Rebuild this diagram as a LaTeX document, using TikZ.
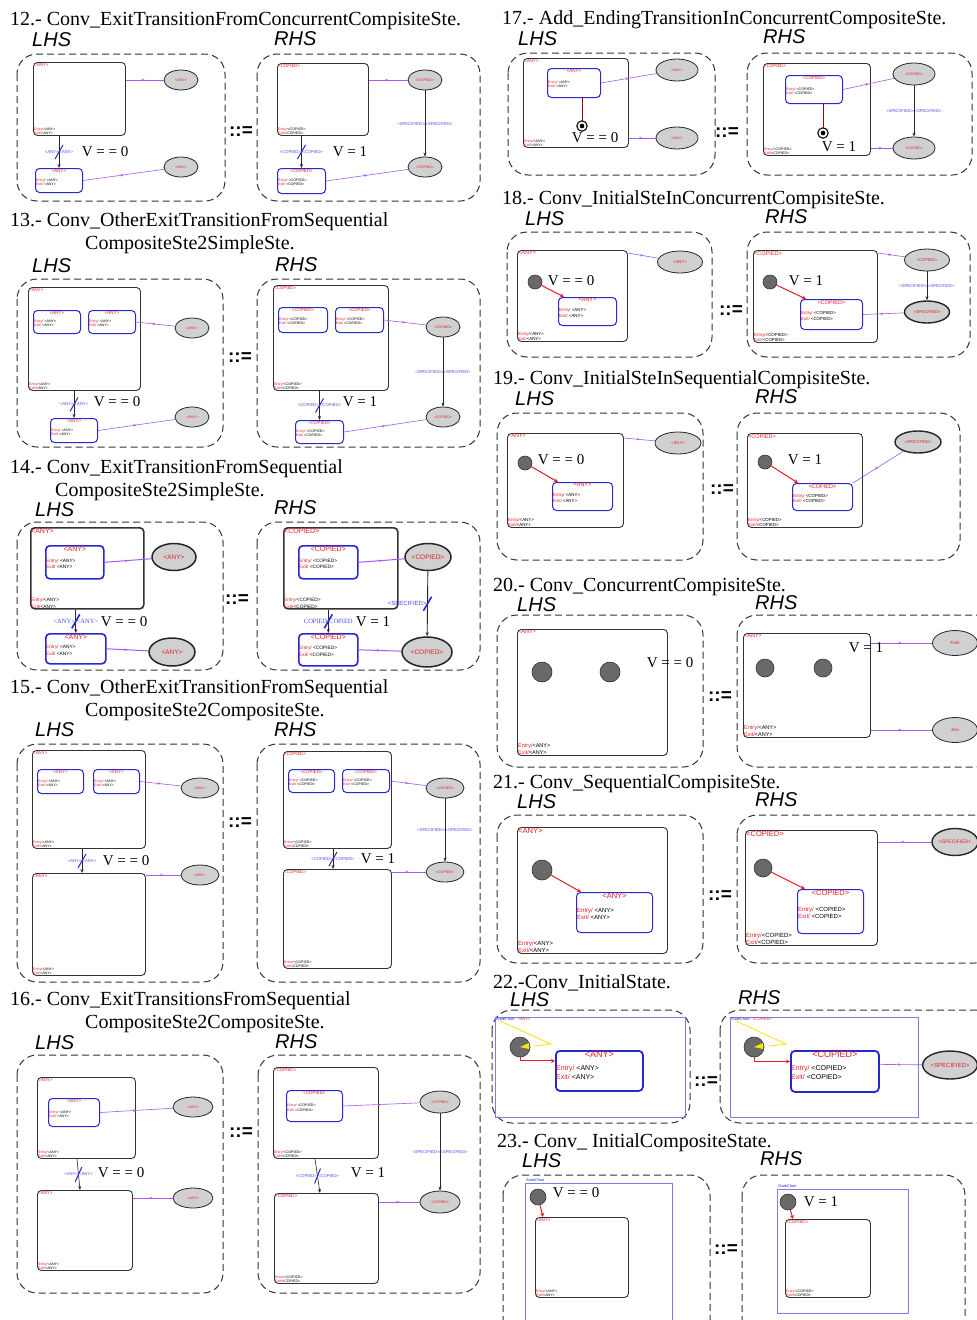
\documentclass[tikz,border=0pt]{standalone}
\usepackage{fontspec}
\setmainfont{Liberation Serif}
\setsansfont{Liberation Sans}
\usetikzlibrary{shapes.geometric,arrows.meta,decorations.markings}
\definecolor{stred}{RGB}{228,30,36}
\definecolor{stblue}{RGB}{40,40,205}
\definecolor{trviolet}{RGB}{168,90,232}
\definecolor{lblblue}{RGB}{75,75,235}
\definecolor{evgray}{RGB}{208,208,208}
\definecolor{inigray}{RGB}{105,105,105}
\definecolor{chartblue}{RGB}{125,125,230}
\newcommand{\entex}[1]{\textcolor{stred}{Entry/}#1\\\textcolor{stred}{Exit/}#1}
\newcommand{\entsp}[1]{\textcolor{stred}{Entry/}\ #1\\\textcolor{stred}{Exit/}\ #1}
\begin{document}
\begin{tikzpicture}[x=1pt, y=-1pt,
  title/.style={anchor=base west, inner sep=0, font=\fontsize{20}{20}\selectfont},
  side/.style={anchor=base west, inner sep=0, font=\fontsize{20}{20}\selectfont\sffamily\itshape},
  panel/.style={draw=black!80, line width=1pt, dash pattern=on 7pt off 4pt, rounded corners=20pt},
  rew/.style={inner sep=0, font=\fontsize{19}{19}\selectfont\sffamily\bfseries},
  cond/.style={inner sep=0, font=\fontsize{15}{15}\selectfont},
  sz/.style 2 args={minimum width=#1, minimum height=#2},
  hdr/.style={text=stred, inner sep=1pt, font=\fontsize{4.4}{5}\selectfont\sffamily},
  ent/.style={inner sep=1pt, align=left, font=\fontsize{3.6}{4.4}\selectfont\sffamily},
  comp/.style={draw=black!80, line width=0.9pt, rounded corners=4pt, anchor=north west, inner sep=0,
    label={[hdr, anchor=north west]north west:#1},
    label={[ent, anchor=south west]south west:\entex{#1}}},
  st/.style={draw=stblue, line width=1pt, rounded corners=4pt, anchor=north west, inner sep=0,
    label={[hdr, anchor=north]north:#1},
    label={[ent, anchor=west, yshift=-1.5pt]west:\entsp{#1}}},
  ev/.style={ellipse, draw=black!85, fill=evgray, line width=0.8pt, inner sep=0, sz={34}{20},
    text=stred, font=\fontsize{3.6}{4}\selectfont\sffamily},
  spec/.style={line width=1.4pt},
  init/.style={circle, draw=black!80, fill=inigray, line width=0.6pt, minimum size=14, inner sep=0},
  fin/.style={circle, draw=black, fill=black, minimum size=7, inner sep=0, line width=1.2pt, double=white, double distance=1.8pt},
  chart/.style={draw=chartblue, line width=0.7pt, anchor=north west, inner sep=0},
  chl/.style={inner sep=1pt, font=\fontsize{3.8}{4}\selectfont\sffamily},
  lbl/.style={text=lblblue, inner sep=0.5pt, font=\fontsize{4.2}{5}\selectfont\sffamily},
  tr/.style={draw=trviolet, line width=0.6pt, postaction={decorate},
    decoration={markings, mark=at position 0.5 with {\arrow{Stealth[length=3pt, width=2.5pt]}}}},
  ar/.style={draw=black!85, line width=0.6pt, -{Stealth[length=4pt, width=3pt]}},
  cut/.style={postaction={decorate}, decoration={markings, mark=at position 0.5 with {\draw[-, stblue, line width=#1] (-7,-4) -- (7,4);}}},
  cut/.default=1pt,
  ini/.style={draw=stred, line width=1pt, -{Stealth[length=4pt, width=4pt]}},
  fline/.style={draw=red!65!black, line width=1pt}
  ]
\path[use as bounding box, fill=white] (0,0) rectangle (977,1320);

% 12.- exit transition from concurrent composite
\node[title] (t12) at (10,25) {12.- Conv\_ExitTransitionFromConcurrentCompisiteSte.};
\node[side] (l12) at (32,46) {LHS};
\node[side] (r12) at (274,45) {RHS};
\draw[panel] (17,54) rectangle (225,201);
\draw[panel] (257,54) rectangle (480,201);
\node[rew] (x12) at (241,132) {::=};
\node[comp=<ANY>, sz={92}{73}] (c12l) at (33,62) {};
\node[st=<ANY>, sz={47}{24}] (s12l) at (35,168) {};
\node[ev] (e12la) at (181,80) {<ANY>};
\node[ev] (e12lb) at (181,167) {<ANY>};
\draw[tr] (c12l.east |- e12la) -- (e12la);
\draw[tr] (s12l.east) -- (e12lb);
\draw[ar, cut] (s12l.north |- c12l.south) -- (s12l.north) node[lbl, pos=0.5] {<ANY>/<ANY>};
\node[cond] (v12l) at (105,152) {V = = 0};
\node[comp=<COPIED>, sz={91}{72}] (c12r) at (277,63) {};
\node[st=<COPIED>, sz={48}{25}] (s12r) at (277,168) {};
\node[ev] (e12ra) at (425,80) {<COPIED>};
\node[ev] (e12rb) at (425,167) {<COPIED>};
\draw[tr] (c12r.east |- e12ra) -- (e12ra);
\draw[tr] (s12r.east) -- (e12rb);
\draw[ar] (e12ra) -- (e12rb) node[lbl, pos=0.5] {<SPECIFIED>/<SPECIFIED>};
\draw[ar, cut] (s12r.north |- c12r.south) -- (s12r.north) node[lbl, pos=0.5] {<COPIED>/<COPIED>};
\node[cond] (v12r) at (350,152) {V = 1};

% 13.- other exit transition, sequential to simple
\node[title] (t13) at (10,226) {13.- Conv\_OtherExitTransitionFromSequential};
\node[title] (t13b) at (85,249) {CompositeSte2SimpleSte.};
\node[side] (l13) at (32,272) {LHS};
\node[side] (r13) at (275,271) {RHS};
\draw[panel] (17,279) rectangle (223,447);
\draw[panel] (257,279) rectangle (480,447);
\node[rew] (x13) at (240,358) {::=};
\node[comp=<ANY>, sz={112}{103}] (c13l) at (28,287) {};
\node[st=<ANY>, sz={47}{23}] (s13la) at (33,310) {};
\node[st=<ANY>, sz={47}{23}] (s13lb) at (88,310) {};
\node[st=<ANY>, sz={47}{24}] (s13lc) at (50,418) {};
\node[ev] (e13la) at (192,328) {<ANY>};
\node[ev] (e13lb) at (192,417) {<ANY>};
\draw[tr] (s13lb.east) -- (e13la);
\draw[tr] (s13lc.east) -- (e13lb);
\draw[ar, cut] (s13lc.north |- c13l.south) -- (s13lc.north) node[lbl, pos=0.5] {<ANY>/<ANY>};
\node[cond] (v13l) at (117,402) {V = = 0};
\node[comp=<COPIED>, sz={115}{105}] (c13r) at (273,285) {};
\node[st=<COPIED>, sz={49}{25}] (s13ra) at (278,307) {};
\node[st=<COPIED>, sz={48}{25}] (s13rb) at (335,307) {};
\node[st=<COPIED>, sz={48}{23}] (s13rc) at (295,420) {};
\node[ev] (e13ra) at (443,327) {<COPIED>};
\node[ev] (e13rb) at (443,417) {<COPIED>};
\draw[tr] (s13rb.east) -- (e13ra);
\draw[tr] (s13rc.east) -- (e13rb);
\draw[ar] (e13ra) -- (e13rb) node[lbl, pos=0.5] {<SPECIFIED>/<SPECIFIED>};
\draw[ar, cut] (s13rc.north |- c13r.south) -- (s13rc.north) node[lbl, pos=0.5] {<COPIED>/<COPIED>};
\node[cond] (v13r) at (360,402) {V = 1};

% 14.- exit transition, sequential to simple (bold)
\node[title] (t14) at (10,473) {14.- Conv\_ExitTransitionFromSequential};
\node[title] (t14b) at (55,496) {CompositeSte2SimpleSte.};
\node[side] (l14) at (35,516) {LHS};
\node[side] (r14) at (274,514) {RHS};
\draw[panel] (17,522) rectangle (223,670);
\draw[panel] (257,522) rectangle (480,670);
\node[rew] (x14) at (237,600) {::=};
\begin{scope}[hdr/.append style={font=\fontsize{7}{8}\selectfont\sffamily},
  ent/.append style={font=\fontsize{4.8}{6.5}\selectfont\sffamily},
  ev/.append style={line width=1.5pt, font=\fontsize{6.5}{7}\selectfont\sffamily},
  lbl/.append style={font=\fontsize{6.5}{7}\selectfont}]
\node[comp=<ANY>, sz={113}{81}, line width=1.6pt] (c14l) at (30,527) {};
\node[st=<ANY>, sz={58}{33}, line width=1.6pt] (s14la) at (45,545) {};
\node[st=<ANY>, sz={60}{30}, line width=1.6pt] (s14lb) at (45,633) {};
\node[ev, sz={44}{27}] (e14la) at (174,557) {<ANY>};
\node[ev, sz={46}{28}] (e14lb) at (172,652) {<ANY>};
\draw[tr, line width=1pt] (s14la.east) -- (e14la);
\draw[tr, line width=1pt] (s14lb.east) -- (e14lb);
\draw[ar, line width=0.9pt, cut=1.6pt] (s14lb.north |- c14l.south) -- (s14lb.north) node[lbl, pos=0.5] {<ANY>/<ANY>};
\node[cond] (v14l) at (124,622) {V = = 0};
\node[comp=<COPIED>, sz={114}{81}, line width=1.6pt] (c14r) at (283,527) {};
\node[st=<COPIED>, sz={59}{33}, line width=1.6pt] (s14ra) at (298,545) {};
\node[st=<COPIED>, sz={59}{32}, line width=1.6pt] (s14rb) at (298,633) {};
\node[ev, sz={46}{27}] (e14ra) at (428,557) {<COPIED>};
\node[ev, sz={50}{30}] (e14rb) at (427,652) {<COPIED>};
\draw[tr, line width=1pt] (s14ra.east) -- (e14ra);
\draw[tr, line width=1pt] (s14rb.east) -- (e14rb);
\draw[ar, line width=0.9pt, cut=1.6pt] (e14ra) -- (e14rb) node[lbl, pos=0.5, anchor=east, font=\fontsize{6}{7}\selectfont\sffamily] {<SPECIFIED>};
\draw[ar, line width=0.9pt, cut=1.6pt] (s14rb.north |- c14r.south) -- (s14rb.north) node[lbl, pos=0.5] {COPIED/COPIED};
\node[cond] (v14r) at (373,622) {V = 1};
\end{scope}

% 15.- other exit transition, sequential to composite
\node[title] (t15) at (10,693) {15.- Conv\_OtherExitTransitionFromSequential};
\node[title] (t15b) at (85,716) {CompositeSte2CompositeSte.};
\node[side] (l15) at (35,736) {LHS};
\node[side] (r15) at (274,736) {RHS};
\draw[panel] (17,744) rectangle (223,982);
\draw[panel] (257,744) rectangle (480,982);
\node[rew] (x15) at (240,823) {::=};
\node[comp=<ANY>, sz={113}{98}] (c15la) at (32,750) {};
\node[st=<ANY>, sz={46}{24}] (s15la) at (37,769) {};
\node[st=<ANY>, sz={46}{24}] (s15lb) at (93,769) {};
\node[comp=<ANY>, sz={113}{102}] (c15lb) at (32,873) {};
\node[ev, sz={38}{20}] (e15la) at (200,788) {<ANY>};
\node[ev, sz={38}{20}] (e15lb) at (200,875) {<ANY>};
\draw[tr] (s15lb.east) -- (e15la);
\draw[tr] (c15lb.east |- e15lb) -- (e15lb);
\draw[ar, cut] ([xshift=50]c15la.south west) -- ([xshift=50]c15lb.north west) node[lbl, pos=0.5] {<ANY>/<ANY>};
\node[cond] (v15l) at (126,861) {V = = 0};
\node[comp=<COPIED>, sz={108}{97}] (c15ra) at (283,751) {};
\node[st=<COPIED>, sz={46}{23}] (s15ra) at (288,769) {};
\node[st=<COPIED>, sz={47}{23}] (s15rb) at (342,769) {};
\node[comp=<COPIED>, sz={108}{99}] (c15rb) at (283,869) {};
\node[ev, sz={38}{20}] (e15ra) at (445,788) {<COPIED>};
\node[ev, sz={38}{20}] (e15rb) at (445,872) {<COPIED>};
\draw[tr] (s15rb.east) -- (e15ra);
\draw[tr] (c15rb.east |- e15rb) -- (e15rb);
\draw[ar] (e15ra) -- (e15rb) node[lbl, pos=0.5] {<SPECIFIED>/<SPECIFIED>};
\draw[ar, cut] ([xshift=50]c15ra.south west) -- ([xshift=50]c15rb.north west) node[lbl, pos=0.5] {<COPIED>/<COPIED>};
\node[cond] (v15r) at (378,859) {V = 1};

% 16.- exit transitions, sequential to composite
\node[title] (t16) at (10,1005) {16.- Conv\_ExitTransitionsFromSequential};
\node[title] (t16b) at (85,1028) {CompositeSte2CompositeSte.};
\node[side] (l16) at (35,1049) {LHS};
\node[side] (r16) at (275,1048) {RHS};
\draw[panel] (17,1055) rectangle (223,1293);
\draw[panel] (258,1055) rectangle (480,1293);
\node[rew] (x16) at (241,1133) {::=};
\node[comp=<ANY>, sz={98}{81}] (c16la) at (37,1077) {};
\node[st=<ANY>, sz={51}{28}] (s16l) at (48,1098) {};
\node[comp=<ANY>, sz={95}{80}] (c16lb) at (37,1190) {};
\node[ev, sz={40}{20}] (e16la) at (193,1107) {<ANY>};
\node[ev, sz={40}{20}] (e16lb) at (193,1198) {<ANY>};
\draw[tr] (s16l.east) -- (e16la);
\draw[tr] (c16lb.east |- e16lb) -- (e16lb);
\draw[ar, cut] ([xshift=40]c16la.south west) -- ([xshift=43]c16lb.north west) node[lbl, pos=0.5] {<ANY>/<ANY>};
\node[cond] (v16l) at (121,1173) {V = = 0};
\node[comp=<COPIED>, sz={105}{91}] (c16ra) at (273,1067) {};
\node[st=<COPIED>, sz={56}{31}] (s16r) at (286,1090) {};
\node[comp=<COPIED>, sz={104}{90}] (c16rb) at (274,1193) {};
\node[ev, sz={40}{22}] (e16ra) at (440,1102) {<COPIED>};
\node[ev, sz={40}{22}] (e16rb) at (440,1202) {<COPIED>};
\draw[tr] (s16r.east) -- (e16ra);
\draw[tr] (c16rb.east |- e16rb) -- (e16rb);
\draw[ar] (e16ra) -- (e16rb) node[lbl, pos=0.5] {<SPECIFIED>/<SPECIFIED>};
\draw[ar, cut] ([xshift=42]c16ra.south west) -- ([xshift=46]c16rb.north west) node[lbl, pos=0.5] {<COPIED>/<COPIED>};
\node[cond] (v16r) at (368,1173) {V = 1};

% 17.- ending transition in concurrent composite
\node[title] (t17) at (502,24) {17.- Add\_EndingTransitionInConcurrentCompositeSte.};
\node[side] (l17) at (518,45) {LHS};
\node[side] (r17) at (763,43) {RHS};
\draw[panel] (508,53) rectangle (715,175);
\draw[panel] (747,53) rectangle (972,175);
\node[rew] (x17) at (727,133) {::=};
\node[comp=<ANY>, sz={105}{89}] (c17l) at (523,58) {};
\node[st=<ANY>, sz={53}{29}] (s17l) at (547,68) {};
\node[fin] (f17l) at (582,126) {};
\node[ev, sz={42}{22}] (e17la) at (677,70) {<ANY>};
\node[ev, sz={42}{22}] (e17lb) at (677,138) {<ANY>};
\draw[fline] (s17l.south -| f17l) -- (f17l);
\draw[tr] (s17l.east) -- (e17la);
\draw[tr] (c17l.east |- e17lb) -- (e17lb);
\node[cond] (v17l) at (595,138) {V = = 0};
\node[comp=<COPIED>, sz={107}{92}] (c17r) at (763,63) {};
\node[st=<COPIED>, sz={57}{28}] (s17r) at (785,75) {};
\node[fin] (f17r) at (823,133) {};
\node[ev, sz={42}{22}] (e17ra) at (914,74) {<COPIED>};
\node[ev, sz={42}{22}] (e17rb) at (914,148) {<COPIED>};
\draw[fline] (s17r.south -| f17r) -- (f17r);
\draw[tr] (s17r.east) -- (e17ra);
\draw[tr] (c17r.east |- e17rb) -- (e17rb);
\draw[ar] (e17ra) -- (e17rb) node[lbl, pos=0.5] {<SPECIFIED>/<SPECIFIED>};
\node[cond] (v17r) at (839,147) {V = 1};

% 18.- initial state in concurrent composite
\node[title] (t18) at (502,204) {18.- Conv\_InitialSteInConcurrentCompisiteSte.};
\node[side] (l18) at (525,225) {LHS};
\node[side] (r18) at (765,223) {RHS};
\draw[panel] (507,232) rectangle (712,357);
\draw[panel] (747,232) rectangle (970,357);
\node[rew] (x18) at (731,311) {::=};
\begin{scope}[hdr/.append style={font=\fontsize{5.5}{6}\selectfont\sffamily},
  ent/.append style={font=\fontsize{4.4}{5.4}\selectfont\sffamily},
  ev/.append style={font=\fontsize{4.2}{5}\selectfont\sffamily}]
\node[comp=<ANY>, sz={110}{91}] (c18l) at (517,250) {};
\node[init] (i18l) at (535,282) {};
\node[st=<ANY>, sz={58}{28}] (s18l) at (558,297) {};
\node[ev, sz={45}{22}] (e18l) at (680,262) {<ANY>};
\draw[ini] (i18l) -- ([xshift=6]s18l.north west);
\draw[tr] ([yshift=-3]c18l.north east) -- (e18l);
\node[cond] (v18l) at (571,281) {V = = 0};
\node[comp=<COPIED>, sz={124}{92}] (c18r) at (753,250) {};
\node[init] (i18r) at (770,282) {};
\node[st=<COPIED>, sz={62}{30}] (s18r) at (800,299) {};
\node[ev, sz={45}{22}] (e18ra) at (927,260) {<COPIED>};
\node[ev, spec, sz={45}{22}] (e18rb) at (927,312) {<SPECIFIED>};
\draw[ini] (i18r) -- ([xshift=6]s18r.north west);
\draw[tr] ([yshift=-3]c18r.north east) -- (e18ra);
\draw[tr] (s18r.east) -- (e18rb);
\draw[ar] (e18ra) -- (e18rb) node[lbl, pos=0.5] {<SPECIFIED>/<SPECIFIED>};
\node[cond] (v18r) at (806,281) {V = 1};
\end{scope}

% 19.- initial state in sequential composite
\node[title] (t19) at (493,384) {19.- Conv\_InitialSteInSequentialCompisiteSte.};
\node[side] (l19) at (515,405) {LHS};
\node[side] (r19) at (755,403) {RHS};
\draw[panel] (497,413) rectangle (703,560);
\draw[panel] (737,413) rectangle (960,560);
\node[rew] (x19) at (722,490) {::=};
\begin{scope}[hdr/.append style={font=\fontsize{5.5}{6}\selectfont\sffamily},
  ent/.append style={font=\fontsize{4.4}{5.4}\selectfont\sffamily},
  ev/.append style={font=\fontsize{4.2}{5}\selectfont\sffamily}]
\node[comp=<ANY>, sz={116}{94}] (c19l) at (507,433) {};
\node[init] (i19l) at (525,463) {};
\node[st=<ANY>, sz={60}{28}] (s19l) at (552,482) {};
\node[ev, sz={46}{22}] (e19l) at (678,443) {<ANY>};
\draw[ini] (i19l) -- ([xshift=6]s19l.north west);
\draw[tr] ([yshift=-5]c19l.north east) -- (e19l);
\node[cond] (v19l) at (561,460) {V = = 0};
\node[comp=<COPIED>, sz={115}{94}] (c19r) at (747,433) {};
\node[init] (i19r) at (765,462) {};
\node[st=<COPIED>, sz={60}{27}] (s19r) at (792,483) {};
\node[ev, spec, sz={46}{22}] (e19r) at (918,442) {<SPECIFIED>};
\draw[ini] (i19r) -- ([xshift=6]s19r.north west);
\draw[tr] (s19r.north east) -- (e19r);
\node[cond] (v19r) at (805,460) {V = 1};
\end{scope}

% 20.- concurrent composite
\node[title] (t20) at (493,591) {20.- Conv\_ConcurrentCompisiteSte.};
\node[side] (l20) at (517,611) {LHS};
\node[side] (r20) at (755,609) {RHS};
\draw[panel] (497,615) rectangle (703,767);
\draw[panel] (737,615) rectangle (995,767);
\node[rew] (x20) at (720,697) {::=};
\begin{scope}[hdr/.append style={font=\fontsize{5.5}{6}\selectfont\sffamily},
  ent/.append style={font=\fontsize{5.5}{7}\selectfont\sffamily},
  ev/.append style={font=\fontsize{4.5}{5}\selectfont\sffamily}]
\node[comp=<ANY>, sz={150}{126}] (c20l) at (517,629) {};
\node[init, minimum size=20] (i20la) at (542,672) {};
\node[init, minimum size=20] (i20lb) at (610,672) {};
\node[cond] (v20l) at (670,663) {V = = 0};
\node[comp=<ANY>, sz={127}{104}, ent/.append style={font=\fontsize{4.6}{6}\selectfont\sffamily}] (c20r) at (743,633) {};
\node[init, minimum size=18] (i20ra) at (765,668) {};
\node[init, minimum size=18] (i20rb) at (823,668) {};
\node[ev, sz={45}{25}] (e20ra) at (955,643) {Fork};
\node[ev, sz={45}{25}] (e20rb) at (955,730) {Join};
\draw[tr] (c20r.east |- e20ra) -- (e20ra);
\draw[tr] (c20r.east |- e20rb) -- (e20rb);
\node[cond] (v20r) at (866,648) {V = 1};
\end{scope}

% 21.- sequential composite
\node[title] (t21) at (493,788) {21.- Conv\_SequentialCompisiteSte.};
\node[side] (l21) at (517,808) {LHS};
\node[side] (r21) at (755,806) {RHS};
\draw[panel] (497,815) rectangle (703,963);
\draw[panel] (737,815) rectangle (995,963);
\node[rew] (x21) at (720,896) {::=};
\begin{scope}[hdr/.append style={font=\fontsize{7.5}{8}\selectfont\sffamily},
  ent/.append style={font=\fontsize{6}{7.5}\selectfont\sffamily},
  ev/.append style={font=\fontsize{5}{6}\selectfont\sffamily}]
\node[comp=<ANY>, sz={150}{126}] (c21l) at (517,827) {};
\node[init, minimum size=20] (i21l) at (542,870) {};
\node[st=<ANY>, sz={76}{40}] (s21l) at (576,892) {};
\draw[ini] (i21l) -- ([xshift=5]s21l.north west);
\node[comp=<COPIED>, sz={132}{115}] (c21r) at (745,830) {};
\node[init, minimum size=18] (i21r) at (763,868) {};
\node[st=<COPIED>, sz={66}{44}] (s21r) at (797,889) {};
\node[ev, spec, sz={46}{27}] (e21r) at (955,842) {<SPECIFIED>};
\draw[ini] (i21r) -- ([xshift=8]s21r.north west);
\draw[tr] (c21r.east |- e21r) -- (e21r);
\end{scope}

% 22.- initial state
\node[title] (t22) at (493,988) {22.-Conv\_InitialState.};
\node[side] (l22) at (510,1006) {LHS};
\node[side] (r22) at (738,1004) {RHS};
\draw[panel] (492,1010) rectangle (690,1123);
\draw[panel] (720,1010) rectangle (995,1123);
\node[rew] (x22) at (706,1082) {::=};
\begin{scope}[hdr/.append style={font=\fontsize{9}{10}\selectfont\sffamily},
  ent/.append style={font=\fontsize{7}{9}\selectfont\sffamily},
  ev/.append style={font=\fontsize{6}{7}\selectfont\sffamily}]
\node[chart, sz={190}{100}] (ch22l) at (495,1017) {};
\node[chl, anchor=north west] (n22l) at (ch22l.north west) {\textcolor{stblue}{StateChart :} \textcolor{stred}{<ANY>}};
\draw[yellow!85!orange, line width=0.8pt] (500,1021) -- (551,1044) -- (534,1046);
\node[init, minimum size=20] (i22l) at (520,1047) {};
\fill[yellow!90!orange] (i22l.center) -- ++(9,-4) -- ++(0,6) -- cycle;
\node[st=<ANY>, sz={87}{40}, line width=1.8pt] (s22l) at (555,1050) {};
\draw[ini] (i22l) |- ([yshift=10]s22l.west);
\node[chart, sz={188}{100}] (ch22r) at (730,1017) {};
\node[chl, anchor=north west] (n22r) at (ch22r.north west) {\textcolor{stblue}{StateChart :} \textcolor{stred}{<COPIED>}};
\draw[yellow!85!orange, line width=0.8pt] (736,1021) -- (786,1044) -- (769,1046);
\node[init, minimum size=20] (i22r) at (754,1047) {};
\fill[yellow!90!orange] (i22r.center) -- ++(9,-4) -- ++(0,6) -- cycle;
\node[st=<COPIED>, sz={88}{41}, line width=1.8pt] (s22r) at (790,1050) {};
\draw[ini] (i22r) |- ([yshift=10]s22r.west);
\node[ev, spec, sz={42}{28}] (e22r) at (950,1065) {<SPECIFIED>};
\draw[tr] ([yshift=7]s22r.east) -- (e22r);
\end{scope}

% 23.- initial composite state
\node[title] (t23) at (497,1147) {23.- Conv\_ InitialCompositeState.};
\node[side] (l23) at (522,1167) {LHS};
\node[side] (r23) at (760,1165) {RHS};
\draw[panel] (503,1175) rectangle (710,1345);
\draw[panel] (742,1175) rectangle (965,1345);
\node[rew] (x23) at (726,1250) {::=};
\node[chart, sz={147}{150}] (ch23l) at (525,1183) {};
\node[chl, anchor=south west] (n23l) at (ch23l.north west) {\textcolor{stblue}{StateChart}};
\node[init, minimum size=16] (i23l) at (538,1197) {};
\node[comp=<ANY>, sz={93}{80}] (c23l) at (535,1217) {};
\draw[ini] (i23l) -- ([xshift=8]c23l.north west);
\node[cond] (v23l) at (576,1193) {V = = 0};
\node[chart, sz={131}{124}] (ch23r) at (777,1189) {};
\node[chl, anchor=south west] (n23r) at (ch23r.north west) {\textcolor{stblue}{StateChart}};
\node[init, minimum size=16] (i23r) at (788,1202) {};
\node[comp=<COPIED>, sz={85}{78}] (c23r) at (785,1219) {};
\draw[ini] (i23r) -- ([xshift=8]c23r.north west);
\node[cond] (v23r) at (821,1202) {V = 1};
\end{tikzpicture}
\end{document}
